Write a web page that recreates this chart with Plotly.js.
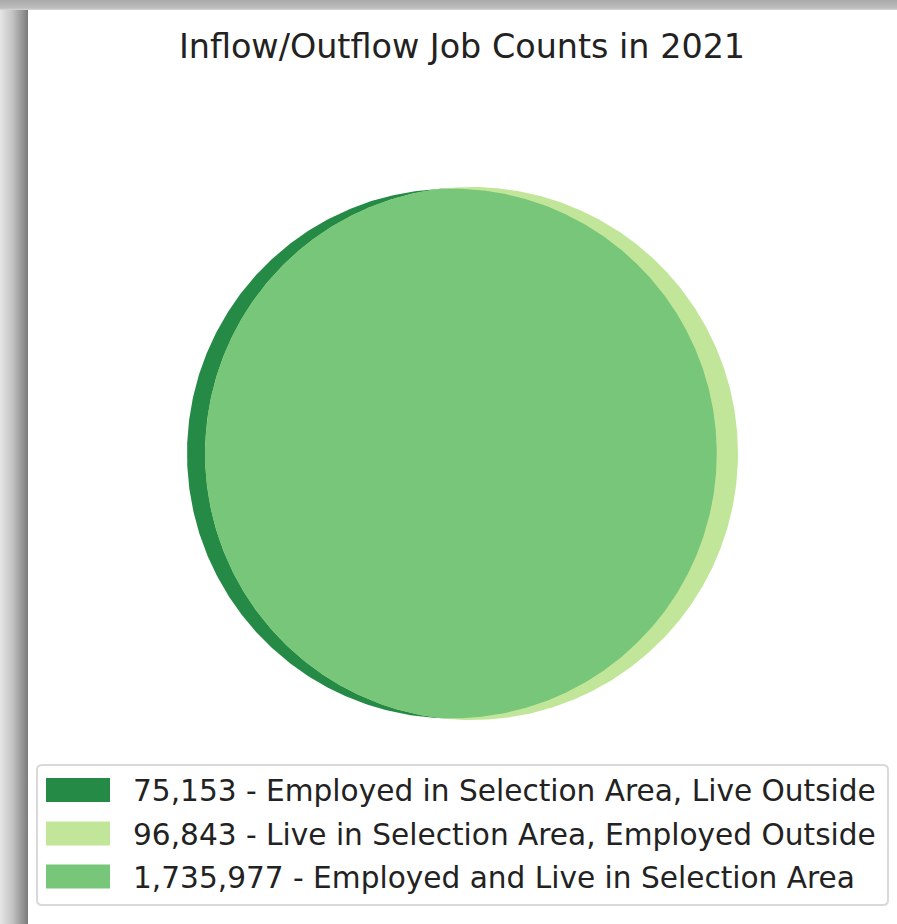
<!DOCTYPE html>
<html>
<head>
<meta charset="utf-8">
<script src="https://cdn.plot.ly/plotly-3.0.1.min.js"></script>
<style>
  html, body { margin: 0; padding: 0; width: 897px; height: 924px; overflow: hidden; }
  body {
    background:
      linear-gradient(to bottom, #a9a9a9 0px, #bdbdbd 8px, #d8d8d8 10px, rgba(255,255,255,0) 10px),
      linear-gradient(to right, #e6e6e6 0px, #c4c4c4 12px, #8e8e8e 24px, #7a7a7a 28px, #ffffff 28px);
    position: relative;
  }
  #chart { position: absolute; left: 28px; top: 10px; width: 869px; height: 914px; background: #fff; }
</style>
</head>
<body>
<div id="chart"></div>
<script>
// ---- data ----
const chartTitle = 'Inflow/Outflow Job Counts in 2021';
const categories = [
  'Employed in Selection Area, Live Outside',
  'Live in Selection Area, Employed Outside',
  'Employed and Live in Selection Area'
];
const values = [75153, 96843, 1735977];
const colors = ['#248a45', '#c2e699', '#78c679'];

// ---- geometry (area-proportional two-circle Venn) ----
const areaA = values[0] + values[2];   // employed in area
const areaB = values[1] + values[2];   // live in area
const overlap = values[2];
const rA = Math.sqrt(areaA / Math.PI);
const rB = Math.sqrt(areaB / Math.PI);
function lens(d) {
  const t1 = rA * rA * Math.acos((d * d + rA * rA - rB * rB) / (2 * d * rA));
  const t2 = rB * rB * Math.acos((d * d + rB * rB - rA * rA) / (2 * d * rB));
  const t3 = 0.5 * Math.sqrt((-d + rA + rB) * (d + rA - rB) * (d - rA + rB) * (d + rA + rB));
  return t1 + t2 - t3;
}
let lo = Math.abs(rA - rB) + 1e-9, hi = rA + rB - 1e-9;
for (let i = 0; i < 200; i++) {
  const mid = (lo + hi) / 2;
  if (lens(mid) > overlap) lo = mid; else hi = mid;
}
const d = (lo + hi) / 2;
const cxA = 0, cxB = d;
const a = (d * d + rA * rA - rB * rB) / (2 * d);
const h = Math.sqrt(rA * rA - a * a);
const thA = Math.atan2(h, a);
const phB = Math.atan2(h, a - d);

function arc(cx, r, t0, t1, n) {
  const xs = [], ys = [];
  for (let i = 0; i <= n; i++) {
    const t = t0 + (t1 - t0) * i / n;
    xs.push(cx + r * Math.cos(t));
    ys.push(r * Math.sin(t));
  }
  return [xs, ys];
}
const circA = arc(cxA, rA, 0, 2 * Math.PI, 720);
const circB = arc(cxB, rB, 0, 2 * Math.PI, 720);
const arcA = arc(cxA, rA, -thA, thA, 600);
const arcB = arc(cxB, rB, phB, 2 * Math.PI - phB, 600);
const lensX = arcA[0].concat(arcB[0]);
const lensY = arcA[1].concat(arcB[1]);

// ---- pixel layout ----
const W = 869, H = 914, OX = 28, OY = 10;
const leftPx = 187, rightPx = 738, centerYPx = 453.5;
const s = (rightPx - leftPx) / (rA + d + rB);
const cData = (-rA + d + rB) / 2;
const cPx = (leftPx + rightPx) / 2 - OX;
const xr = [cData - cPx / s, cData + (W - cPx) / s];
const cyPx = centerYPx - OY;
const yr = [-(H - cyPx) / s, cyPx / s];

const px = x => (x - OX) / W;
const py = y => 1 - (y - OY) / H;

const traces = [
  {x: circA[0], y: circA[1], fill: 'toself', fillcolor: colors[0], mode: 'lines', line: {width: 0, color: colors[0]}, hoverinfo: 'skip', showlegend: false},
  {x: circB[0], y: circB[1], fill: 'toself', fillcolor: colors[1], mode: 'lines', line: {width: 0, color: colors[1]}, hoverinfo: 'skip', showlegend: false},
  {x: lensX, y: lensY, fill: 'toself', fillcolor: colors[2], mode: 'lines', line: {width: 0, color: colors[2]}, hoverinfo: 'skip', showlegend: false}
];

// ---- legend (drawn) ----
const shapes = [];
const annotations = [];
const bx0 = px(37), bx1 = px(888), by0 = py(905), by1 = py(765);
const rx = 5 / W, ry = 5 / H;
shapes.push({
  type: 'path', xref: 'paper', yref: 'paper',
  path: `M ${bx0 + rx},${by1} L ${bx1 - rx},${by1} Q ${bx1},${by1} ${bx1},${by1 - ry} L ${bx1},${by0 + ry} Q ${bx1},${by0} ${bx1 - rx},${by0} L ${bx0 + rx},${by0} Q ${bx0},${by0} ${bx0},${by0 + ry} L ${bx0},${by1 - ry} Q ${bx0},${by1} ${bx0 + rx},${by1} Z`,
  fillcolor: 'rgba(255,255,255,0.9)', line: {color: '#d9d9d9', width: 2}, layer: 'above'
});
const rowY = [790, 833.5, 876.5];
categories.forEach((c, i) => {
  shapes.push({type: 'rect', xref: 'paper', yref: 'paper',
    x0: px(46), x1: px(110), y0: py(rowY[i] + 12), y1: py(rowY[i] - 12),
    fillcolor: colors[i], line: {width: 0}, layer: 'above'});
  annotations.push({xref: 'paper', yref: 'paper', x: px(131), y: py(rowY[i] + 1),
    xanchor: 'left', yanchor: 'middle', showarrow: false,
    text: values[i].toLocaleString('en-US') + ' - ' + c,
    font: {family: 'DejaVu Sans', size: 29.6, color: '#222222'}});
});

const layout = {
  width: W, height: H,
  margin: {l: 0, r: 0, t: 0, b: 0, pad: 0},
  paper_bgcolor: '#ffffff', plot_bgcolor: '#ffffff',
  title: {text: chartTitle, font: {family: 'DejaVu Sans', size: 33.4, color: '#222222'},
    x: px(462), xref: 'container', xanchor: 'center', y: py(46), yref: 'container', yanchor: 'middle'},
  xaxis: {range: xr, visible: false, fixedrange: true},
  yaxis: {range: yr, visible: false, fixedrange: true},
  shapes: shapes, annotations: annotations, showlegend: false
};
Plotly.newPlot('chart', traces, layout, {displayModeBar: false, staticPlot: true});
</script>
</body>
</html>
